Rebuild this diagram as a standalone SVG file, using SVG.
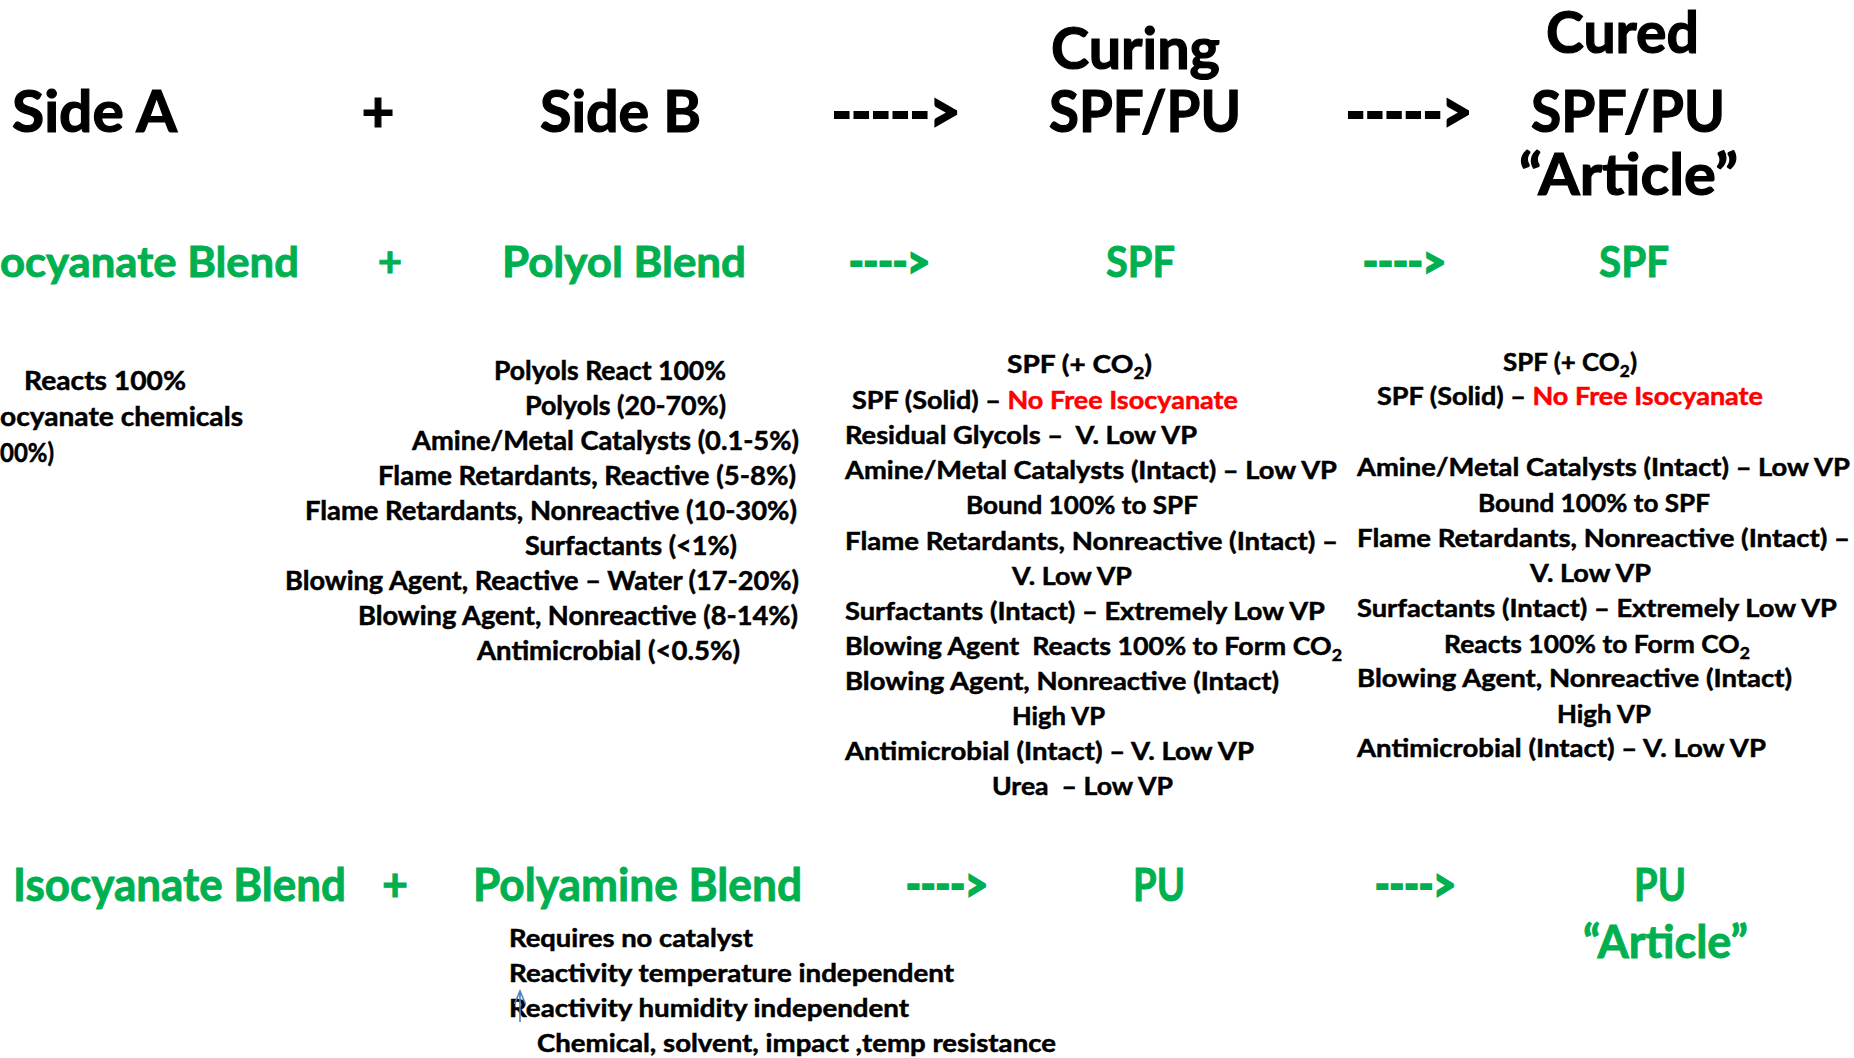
<svg xmlns="http://www.w3.org/2000/svg" width="1854" height="1058" viewBox="0 0 1854 1058">
  <style>
    text { font-family: Lato, "Open Sans", "Liberation Sans", sans-serif; font-weight: 700; fill: #000; stroke: #000; stroke-width: 0.5px; }
    .big { font-size: 57px; stroke-width: 1.2px; }
    .grn { font-size: 42px; fill: #00b050; stroke: #00b050; stroke-width: 0.9px; }
    .grn2 { font-size: 45px; fill: #00b050; stroke: #00b050; stroke-width: 0.9px; }
    .lst { font-size: 26px; }
    .col { font-size: 25.5px; white-space: pre; }
    .low { font-size: 24.5px; }
    .red { fill: #ff0000; stroke: #ff0000; }
    .sub { font-size: 17px; }
    #connectors text { stroke-width: 2.2px; }
  </style>
  <rect width="1854" height="1058" fill="#fff"/>

  <!-- header row -->
  <g id="side-a"><text class="big" x="12" y="132" textLength="165" lengthAdjust="spacingAndGlyphs">Side A</text></g>
  <g id="plus-1"><text class="big" x="378" y="132" text-anchor="middle">+</text></g>
  <g id="side-b"><text class="big" x="540" y="132" textLength="161" lengthAdjust="spacingAndGlyphs">Side B</text></g>
  <g id="curing">
    <text class="big" x="1051" y="69" textLength="169" lengthAdjust="spacingAndGlyphs">Curing</text>
    <text class="big" x="1049" y="132" textLength="192" lengthAdjust="spacingAndGlyphs">SPF/PU</text>
  </g>
  <g id="cured">
    <text class="big" x="1546" y="53" textLength="153" lengthAdjust="spacingAndGlyphs">Cured</text>
    <text class="big" x="1531" y="132" textLength="194" lengthAdjust="spacingAndGlyphs">SPF/PU</text>
    <text class="big" x="1519" y="195" textLength="219" lengthAdjust="spacingAndGlyphs">“Article”</text>
  </g>

  <!-- SPF row -->
  <g id="isocyanate-blend"><text class="grn" x="0" y="277" textLength="299" lengthAdjust="spacingAndGlyphs">ocyanate Blend</text></g>
  <g id="plus-2"><text class="grn" x="390" y="277" text-anchor="middle">+</text></g>
  <g id="polyol-blend"><text class="grn" x="502" y="277" textLength="244" lengthAdjust="spacingAndGlyphs">Polyol Blend</text></g>
  <g id="spf-curing"><text class="grn" x="1106" y="277" textLength="69" lengthAdjust="spacingAndGlyphs">SPF</text></g>
  <g id="spf-cured"><text class="grn" x="1599" y="277" textLength="70" lengthAdjust="spacingAndGlyphs">SPF</text></g>

  <!-- Side A notes -->
  <g id="side-a-notes">
    <text x="24" y="390" style="font-size:27px" textLength="162" lengthAdjust="spacingAndGlyphs">Reacts 100%</text>
    <text x="0" y="426" style="font-size:27px" textLength="243" lengthAdjust="spacingAndGlyphs">ocyanate chemicals</text>
    <text x="0" y="462" style="font-size:27px" textLength="54" lengthAdjust="spacingAndGlyphs">00%)</text>
  </g>

  <!-- Side B composition -->
  <g id="polyol-notes">
    <text class="lst" x="494" y="380" textLength="232" lengthAdjust="spacingAndGlyphs">Polyols React 100%</text>
    <text class="lst" x="525" y="415" textLength="201" lengthAdjust="spacingAndGlyphs">Polyols (20-70%)</text>
    <text class="lst" x="412" y="450" textLength="387" lengthAdjust="spacingAndGlyphs">Amine/Metal Catalysts (0.1-5%)</text>
    <text class="lst" x="378" y="485" textLength="418" lengthAdjust="spacingAndGlyphs">Flame Retardants, Reactive (5-8%)</text>
    <text class="lst" x="305" y="520" textLength="492" lengthAdjust="spacingAndGlyphs">Flame Retardants, Nonreactive (10-30%)</text>
    <text class="lst" x="525" y="555" textLength="212" lengthAdjust="spacingAndGlyphs">Surfactants (&lt;1%)</text>
    <text class="lst" x="285" y="590" textLength="514" lengthAdjust="spacingAndGlyphs">Blowing Agent, Reactive – Water (17-20%)</text>
    <text class="lst" x="358" y="625" textLength="440" lengthAdjust="spacingAndGlyphs">Blowing Agent, Nonreactive (8-14%)</text>
    <text class="lst" x="477" y="660" textLength="263" lengthAdjust="spacingAndGlyphs">Antimicrobial (&lt;0.5%)</text>
  </g>

  <!-- curing foam contents -->
  <g id="curing-notes">
    <text class="col" x="1007" y="373" textLength="145" lengthAdjust="spacingAndGlyphs">SPF (+ CO<tspan class="sub" dy="6">2</tspan><tspan dy="-6">)</tspan></text>
    <text class="col" x="852" y="409" textLength="386" lengthAdjust="spacingAndGlyphs">SPF (Solid) – <tspan class="red">No Free Isocyanate</tspan></text>
    <text class="col" x="845" y="444" textLength="352" lengthAdjust="spacingAndGlyphs">Residual Glycols –  V. Low VP</text>
    <text class="col" x="845" y="479" textLength="492" lengthAdjust="spacingAndGlyphs">Amine/Metal Catalysts (Intact) – Low VP</text>
    <text class="col" x="966" y="514" textLength="232" lengthAdjust="spacingAndGlyphs">Bound 100% to SPF</text>
    <text class="col" x="845" y="550" textLength="493" lengthAdjust="spacingAndGlyphs">Flame Retardants, Nonreactive (Intact) –</text>
    <text class="col" x="1012" y="585" textLength="120" lengthAdjust="spacingAndGlyphs">V. Low VP</text>
    <text class="col" x="845" y="620" textLength="480" lengthAdjust="spacingAndGlyphs">Surfactants (Intact) – Extremely Low VP</text>
    <text class="col" x="845" y="655" textLength="497" lengthAdjust="spacingAndGlyphs">Blowing Agent  Reacts 100% to Form CO<tspan class="sub" dy="6">2</tspan></text>
    <text class="col" x="845" y="690" textLength="434" lengthAdjust="spacingAndGlyphs">Blowing Agent, Nonreactive (Intact)</text>
    <text class="col" x="1012" y="725" textLength="93" lengthAdjust="spacingAndGlyphs">High VP</text>
    <text class="col" x="845" y="760" textLength="409" lengthAdjust="spacingAndGlyphs">Antimicrobial (Intact) – V. Low VP</text>
    <text class="col" x="992" y="795" textLength="181" lengthAdjust="spacingAndGlyphs">Urea  – Low VP</text>
  </g>

  <!-- cured article contents -->
  <g id="cured-notes">
    <text class="col" x="1503" y="371" textLength="134" lengthAdjust="spacingAndGlyphs">SPF (+ CO<tspan class="sub" dy="6">2</tspan><tspan dy="-6">)</tspan></text>
    <text class="col" x="1377" y="405" textLength="386" lengthAdjust="spacingAndGlyphs">SPF (Solid) – <tspan class="red">No Free Isocyanate</tspan></text>
    <text class="col" x="1357" y="476" textLength="493" lengthAdjust="spacingAndGlyphs">Amine/Metal Catalysts (Intact) – Low VP</text>
    <text class="col" x="1478" y="512" textLength="232" lengthAdjust="spacingAndGlyphs">Bound 100% to SPF</text>
    <text class="col" x="1357" y="547" textLength="493" lengthAdjust="spacingAndGlyphs">Flame Retardants, Nonreactive (Intact) –</text>
    <text class="col" x="1530" y="582" textLength="121" lengthAdjust="spacingAndGlyphs">V. Low VP</text>
    <text class="col" x="1357" y="617" textLength="480" lengthAdjust="spacingAndGlyphs">Surfactants (Intact) – Extremely Low VP</text>
    <text class="col" x="1444" y="653" textLength="306" lengthAdjust="spacingAndGlyphs">Reacts 100% to Form CO<tspan class="sub" dy="6">2</tspan></text>
    <text class="col" x="1357" y="687" textLength="435" lengthAdjust="spacingAndGlyphs">Blowing Agent, Nonreactive (Intact)</text>
    <text class="col" x="1557" y="723" textLength="94" lengthAdjust="spacingAndGlyphs">High VP</text>
    <text class="col" x="1357" y="757" textLength="409" lengthAdjust="spacingAndGlyphs">Antimicrobial (Intact) – V. Low VP</text>
  </g>

  <!-- PU row -->
  <g id="isocyanate-blend-pu"><text class="grn2" x="13" y="901" textLength="333" lengthAdjust="spacingAndGlyphs">Isocyanate Blend</text></g>
  <g id="plus-3"><text class="grn2" x="395" y="901" text-anchor="middle">+</text></g>
  <g id="polyamine-blend"><text class="grn2" x="473" y="901" textLength="329" lengthAdjust="spacingAndGlyphs">Polyamine Blend</text></g>
  <g id="pu-curing"><text class="grn2" x="1133" y="901" textLength="52" lengthAdjust="spacingAndGlyphs">PU</text></g>
  <g id="pu-article">
    <text class="grn2" x="1634" y="901" textLength="52" lengthAdjust="spacingAndGlyphs">PU</text>
    <text class="grn2" x="1583" y="958" textLength="165" lengthAdjust="spacingAndGlyphs">“Article”</text>
  </g>

  <!-- polyurea notes -->
  <g id="polyamine-notes">
    <text class="low" x="509" y="947" textLength="244" lengthAdjust="spacingAndGlyphs">Requires no catalyst</text>
    <text class="low" x="509" y="982" textLength="445" lengthAdjust="spacingAndGlyphs">Reactivity temperature independent</text>
    <text class="low" x="509" y="1017" textLength="400" lengthAdjust="spacingAndGlyphs">Reactivity humidity independent</text>
    <text class="low" x="537" y="1052" textLength="519" lengthAdjust="spacingAndGlyphs">Chemical, solvent, impact ,temp resistance</text>
    <!-- small blue caret mark -->
    <path d="M520 1022 V991 M514.5 1004 L520 991 L525.5 1004" fill="none" stroke="#4f81bd" stroke-width="1.6"/>
  </g>

  <!-- reaction arrows -->
  <g id="connectors">
    <text class="big" x="832" y="132" textLength="128" lengthAdjust="spacingAndGlyphs">-----&gt;</text>
    <text class="big" x="1346" y="132" textLength="126" lengthAdjust="spacingAndGlyphs">-----&gt;</text>
    <text class="grn" x="849" y="277" textLength="81" lengthAdjust="spacingAndGlyphs">----&gt;</text>
    <text class="grn" x="1363" y="277" textLength="83" lengthAdjust="spacingAndGlyphs">----&gt;</text>
    <text class="grn2" x="906" y="901" textLength="82" lengthAdjust="spacingAndGlyphs">----&gt;</text>
    <text class="grn2" x="1375" y="901" textLength="81" lengthAdjust="spacingAndGlyphs">----&gt;</text>
  </g>
</svg>
